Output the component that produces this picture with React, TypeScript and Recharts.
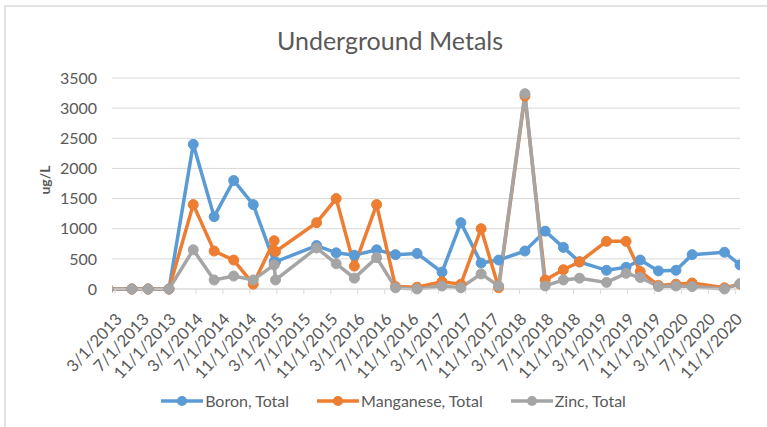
import { LineChart, Line, XAxis, YAxis, CartesianGrid } from 'recharts';

// sample dates and the three series in ug/L
const sampleDates = [
  '2013-02-01', '2013-05-16', '2013-07-28', '2013-11-01', '2014-02-19', '2014-05-22',
  '2014-08-19', '2014-11-16', '2015-02-19', '2015-02-25', '2015-08-28', '2015-11-25',
  '2016-02-16', '2016-05-25', '2016-08-19', '2016-11-25', '2017-03-16', '2017-06-10',
  '2017-09-10', '2017-11-28', '2018-03-25', '2018-06-25', '2018-09-16', '2018-11-28',
  '2019-03-28', '2019-06-25', '2019-08-28', '2019-11-19', '2020-02-07', '2020-04-19',
  '2020-09-13', '2020-11-22',
];
const boron = [
  0, 0, 0, 0, 2400, 1200, 1800, 1400, 450, 450, 720, 600, 560, 650, 570, 590,
  280, 1100, 430, 480, 630, 960, 690, 450, 310, 360, 480, 300, 310, 570, 610, 400,
];
const manganese = [
  0, 0, 0, 0, 1400, 630, 480, 80, 800, 620, 1100, 1500, 380, 1400, 40, 30,
  120, 80, 1000, 20, 3200, 150, 320, 450, 790, 790, 290, 60, 80, 100, 20, 80,
];
const zinc = [
  0, 0, 0, 0, 650, 150, 215, 150, 400, 150, 680, 420, 180, 520, 20, 0,
  50, 20, 250, 50, 3240, 50, 150, 180, 110, 260, 190, 40, 50, 40, 0, 90,
];
const yTicks = [0, 500, 1000, 1500, 2000, 2500, 3000, 3500];
// date axis ticks every 4 months from 3/1/2013 to 11/1/2020 (months since 3/1/2013)
const xTicks = Array.from({ length: 24 }, (_, i) => i * 4);

const series = [
  { key: 'boron', name: 'Boron, Total', color: '#5B9BD5' },
  { key: 'manganese', name: 'Manganese, Total', color: '#ED7D31' },
  { key: 'zinc', name: 'Zinc, Total', color: '#A5A5A5' },
];

const toMonths = (d: string) => {
  const [y, m, day] = d.split('-').map(Number);
  return (y - 2013) * 12 + (m - 3) + (day - 1) / 30;
};

const monthLabel = (v: number) => {
  const total = 2 + v; // 0-based month, March = 2
  const y = 2013 + Math.floor(total / 12);
  const m = (total % 12) + 1;
  return `${m}/1/${y}`;
};

const data = sampleDates.map((d, i) => ({
  x: toMonths(d),
  boron: boron[i],
  manganese: manganese[i],
  zinc: zinc[i],
}));

const FONT = 'Lato, "Open Sans", sans-serif';
const TEXT = '#595959';

const DateTick = ({ x, y, payload }: any) => (
  <g transform={`translate(${x + 8},${y + 26}) rotate(-47)`}>
    <text x={0} y={0} textAnchor="end" fill={TEXT} fontSize={16.5} fontFamily={FONT}>
      {monthLabel(payload.value)}
    </text>
  </g>
);

function LegendIcon({ color }: { color: string }) {
  return (
    <svg width={42} height={12} style={{ marginRight: 2 }}>
      <line x1={0} y1={6} x2={42} y2={6} stroke={color} strokeWidth={3.5} />
      <circle cx={21} cy={6} r={5} fill={color} />
    </svg>
  );
}

export default function App() {
  return (
    <div style={{ position: 'absolute', left: 0, top: 0, width: 767, height: 427, background: '#fff', overflow: 'hidden', fontFamily: FONT }}>
      <div style={{ position: 'absolute', left: 4, top: 5, width: 800, height: 440, borderLeft: '2px solid #e2e2e2', borderTop: '2px solid #e2e2e2' }} />
      <div style={{ position: 'absolute', left: 0, width: 780, top: 25, textAlign: 'center', fontSize: 25, color: TEXT }}>
        Underground Metals
      </div>
      <div style={{ position: 'absolute', left: 44, top: 180, transform: 'translate(-50%, -50%) rotate(-90deg)', fontSize: 14, fontWeight: 'bold', color: TEXT }}>
        ug/L
      </div>
      <LineChart width={767} height={427} data={data} margin={{ top: 78, right: 27, bottom: 0, left: 0 }}>
        <CartesianGrid vertical={false} stroke="#d9d9d9" />
        <XAxis
          dataKey="x"
          type="number"
          domain={[-0.45, 92.7]}
          ticks={xTicks}
          interval={0}
          height={138}
          tick={<DateTick />}
          tickSize={5}
          tickMargin={0}
          axisLine={{ stroke: '#d9d9d9' }}
          tickLine={{ stroke: '#d9d9d9' }}
          allowDataOverflow
        />
        <YAxis
          domain={[0, 3500]}
          ticks={yTicks}
          width={112}
          tickLine={false}
          axisLine={false}
          tickMargin={9}
          tick={{ fill: TEXT, fontSize: 16, fontFamily: FONT }}
        />
        {series.map((s) => (
          <Line
            key={s.key}
            dataKey={s.key}
            name={s.name}
            stroke={s.color}
            strokeWidth={3.5}
            dot={{ r: 5, fill: s.color, stroke: s.color, strokeWidth: 1 }}
            isAnimationActive={false}
          />
        ))}
      </LineChart>
      <div style={{ position: 'absolute', left: 0, width: 787, top: 391, display: 'flex', justifyContent: 'center', gap: 28, fontSize: 16, color: TEXT }}>
        {series.map((s) => (
          <div key={s.key} style={{ display: 'flex', alignItems: 'center' }}>
            <LegendIcon color={s.color} />
            <span>{s.name}</span>
          </div>
        ))}
      </div>
    </div>
  );
}
